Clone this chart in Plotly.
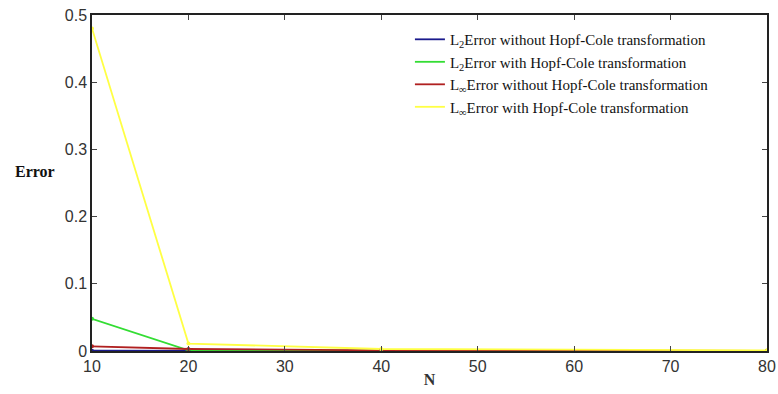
import plotly.graph_objects as go

N = [10, 20, 40, 80]
l2_without = [0.0005, 0.0002, 0.0001, 0.00005]
l2_with = [0.048, 0.001, 0.0004, 0.0001]
linf_without = [0.007, 0.003, 0.001, 0.0003]
linf_with = [0.48, 0.011, 0.003, 0.001]

names = [
    "L<sub>2</sub>Error without Hopf-Cole transformation",
    "L<sub>2</sub>Error with Hopf-Cole transformation",
    "L<sub>∞</sub>Error without Hopf-Cole transformation",
    "L<sub>∞</sub>Error with Hopf-Cole transformation",
]
series = [l2_without, l2_with, linf_without, linf_with]
colors = ["#1a1a8c", "#33dd33", "#b02020", "#ffff44"]

yticks = [0, 0.1, 0.2, 0.3, 0.4, 0.5]
yticktext = ["0", "0.1", "0.2", "0.3", "0.4", "0.5"]
xticks = [10, 20, 30, 40, 50, 60, 70, 80]

fig = go.Figure()
for name, ys, c in zip(names, series, colors):
    fig.add_trace(go.Scatter(x=N, y=ys, name=name, mode="lines",
                             line=dict(color=c, width=1.8)))
for ys, c in zip(series, colors):
    fig.add_trace(go.Scatter(x=N, y=ys, mode="markers", showlegend=False,
                             marker=dict(color=c, size=4), hoverinfo="skip"))

fig.update_layout(
    width=778, height=394,
    margin=dict(l=92, r=11, t=15, b=43),
    paper_bgcolor="white", plot_bgcolor="white",
    showlegend=True,
    legend=dict(x=0.471, y=0.976, xanchor="left", yanchor="top",
                font=dict(family="Liberation Serif", size=15, color="#111"),
                bgcolor="rgba(255,255,255,0)", tracegroupgap=0),
    font=dict(family="Liberation Sans", size=16, color="#333"),
)
fig.update_xaxes(range=[10, 80], tickvals=xticks, ticks="inside", ticklen=5,
                 showline=True, linecolor="#222", linewidth=1.5, mirror="ticks",
                 showgrid=False, zeroline=False, automargin=False, ticklabeloverflow="allow",
                 title=dict(text="<b>N</b>", font=dict(family="Liberation Serif", size=16), standoff=0))
fig.update_yaxes(range=[0, 0.5], tickvals=yticks, ticktext=yticktext, ticks="inside", ticklen=5,
                 showline=True, linecolor="#222", linewidth=1.5, mirror="ticks",
                 showgrid=False, zeroline=False, automargin=False, ticklabeloverflow="allow",
                 title=None)
fig.add_annotation(text="<b>Error</b>", xref="paper", yref="paper", x=-0.085, y=0.535,
                   showarrow=False, font=dict(family="Liberation Serif", size=16, color="#111"),
                   xanchor="center")

fig.write_html("out.html", config={"displayModeBar": False},
               post_script="document.body.style.margin='0';document.body.style.overflow='hidden';")
